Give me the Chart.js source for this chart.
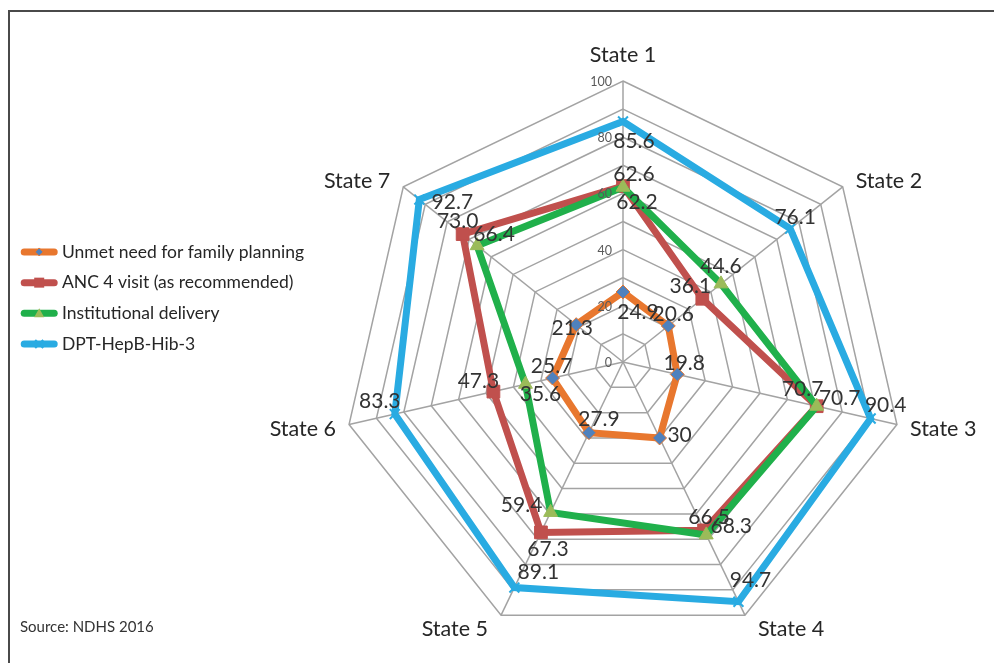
<!DOCTYPE html>
<html>
<head>
<meta charset="utf-8">
<script src="https://cdn.jsdelivr.net/npm/chart.js@4.4.1/dist/chart.umd.min.js"></script>
<style>
  html, body { margin: 0; padding: 0; background: #fff; overflow: hidden; }
  #frame { position: absolute; left: 8px; top: 10px; width: 1100px; height: 800px;
           border-left: 2px solid #4a4a4a; border-top: 2px solid #4a4a4a; }
  #wrap { position: absolute; left: 0; top: 0; width: 994px; height: 663px; }
  #source { position: absolute; left: 20px; top: 617px; font-family: Lato, sans-serif;
            font-size: 15px; color: #333; }
</style>
</head>
<body>
<div id="frame"></div>
<div id="wrap"><canvas id="c" width="994" height="663"></canvas></div>
<div id="source">Source: NDHS 2016</div>
<script>
// ---- data ----
const states = ["State 1", "State 2", "State 3", "State 4", "State 5", "State 6", "State 7"];
const seriesNames = ["Unmet need for family planning", "ANC 4 visit (as recommended)", "Institutional delivery", "DPT-HepB-Hib-3"];
const unmetNeed   = [24.9, 20.6, 19.8, 30.0, 27.9, 25.7, 21.3];
const anc4        = [62.6, 36.1, 70.7, 66.5, 67.3, 47.3, 73.0];
const institDeliv = [62.2, 44.6, 70.7, 68.3, 59.4, 35.6, 66.4];
const dpt3        = [85.6, 76.1, 90.4, 94.7, 89.1, 83.3, 92.7];
const labelText   = [
  ["24.9", "20.6", "19.8", "30", "27.9", "25.7", "21.3"],
  ["62.6", "36.1", "70.7", "66.5", "67.3", "47.3", "73.0"],
  ["62.2", "44.6", "70.7", "68.3", "59.4", "35.6", "66.4"],
  ["85.6", "76.1", "90.4", "94.7", "89.1", "83.3", "92.7"]
];
const tickValues = [0, 20, 40, 60, 80, 100];

// ---- styling (label nudges in px, per series / per state) ----
const labelNudge = [
  [[15, 20], [5, -12], [7, -11], [20, -3], [10, -13], [-1, -12], [-4, 4]],
  [[11, -12], [-12, -13], [-14, -17], [5, -13], [7, 17], [-15, -10], [-5, -13]],
  [[14, 15], [0, -18], [23, -8], [25, -9], [-29, -7], [15, 10], [17, -11]],
  [[11, 20], [5, -11], [15, -13], [12, -22], [24, -15], [-15, -13], [33, 3]]
];
const colors = ["#E8772E", "#C0504D", "#20B04B", "#29ABE2"];
const FONT = "Lato, 'Open Sans', sans-serif";

function drawMarker(ctx, kind, x, y, r, fill, stroke) {
  ctx.save();
  ctx.fillStyle = fill; ctx.strokeStyle = stroke; ctx.lineWidth = 1;
  ctx.beginPath();
  if (kind === 'diamond') {
    ctx.moveTo(x, y - r); ctx.lineTo(x + r, y); ctx.lineTo(x, y + r); ctx.lineTo(x - r, y); ctx.closePath();
    ctx.fill(); ctx.stroke();
  } else if (kind === 'square') {
    ctx.rect(x - r, y - r, 2 * r, 2 * r); ctx.fill();
  } else if (kind === 'triangle') {
    ctx.moveTo(x, y - r); ctx.lineTo(x + r, y + r * 0.8); ctx.lineTo(x - r, y + r * 0.8); ctx.closePath();
    ctx.fill();
  } else if (kind === 'cross') {
    ctx.lineWidth = 2;
    ctx.moveTo(x - r, y - r); ctx.lineTo(x + r, y + r); ctx.moveTo(x + r, y - r); ctx.lineTo(x - r, y + r);
    ctx.stroke();
  }
  ctx.restore();
}
const legendMarkers = [
  ['diamond', 4, '#4F81BD', '#E8772E'],
  ['square', 5, '#C0504D', '#C0504D'],
  ['triangle', 5, '#9BBB59', '#9BBB59'],
  ['cross', 4, '#29ABE2', '#29ABE2']
];

const extrasPlugin = {
  id: 'extras',
  afterLayout(chart) {
    // let the legend text run past the (narrowed) legend box instead of being clipped
    const lg = chart.legend;
    if (lg) { lg.width = 330; lg.right = lg.left + 330; }
  },
  afterDraw(chart) {
    const ctx = chart.ctx;
    const sc = chart.scales.r;
    // tick labels
    ctx.save();
    ctx.font = "12.5px " + FONT;
    ctx.fillStyle = "#595959";
    ctx.textAlign = "right";
    ctx.textBaseline = "middle";
    tickValues.forEach(v => {
      const d = sc.getDistanceFromCenterForValue(v);
      ctx.fillText(String(v), sc.xCenter - 11, sc.yCenter - d + 1);
    });
    ctx.restore();
    // category (point) labels
    ctx.save();
    ctx.font = "21.5px " + FONT;
    ctx.fillStyle = "#262626";
    ctx.textAlign = "center";
    ctx.textBaseline = "middle";
    states.forEach((s, i) => {
      const a = sc.getIndexAngle(i);
      const p = sc.getPointPosition(i, sc.drawingArea);
      const w = ctx.measureText(s).width;
      const sn = Math.sin(a), cs = Math.cos(a);
      let dx, dy;
      if (Math.abs(sn) < 0.1) { dx = 0; dy = cs > 0 ? -26 : 26; }
      else { dx = Math.sign(sn) * (w / 2 + 13); dy = -cs * 13 + 2; }
      ctx.fillText(s, p.x + dx, p.y + dy);
    });
    ctx.restore();
    // legend symbols
    const lg = chart.legend;
    if (lg && lg.legendHitBoxes) {
      lg.legendHitBoxes.forEach((hb, i) => {
        const y = hb.top + hb.height / 2;
        const x0 = hb.left + 1, x1 = hb.left + 37;
        ctx.save();
        ctx.strokeStyle = colors[i]; ctx.lineWidth = 7; ctx.lineCap = 'round';
        ctx.beginPath(); ctx.moveTo(x0 + 3, y); ctx.lineTo(x1 - 3, y); ctx.stroke();
        ctx.restore();
        const m = legendMarkers[i];
        drawMarker(ctx, m[0], (x0 + x1) / 2, y, m[1], m[2], m[3]);
      });
    }
  },
  afterDatasetsDraw(chart) {
    const ctx = chart.ctx;
    ctx.save();
    ctx.font = "21px " + FONT;
    ctx.fillStyle = "#333333";
    ctx.textAlign = "center";
    ctx.textBaseline = "middle";
    chart.data.datasets.forEach((ds, di) => {
      const meta = chart.getDatasetMeta(di);
      meta.data.forEach((pt, i) => {
        const n = labelNudge[di][i];
        ctx.fillText(labelText[di][i], pt.x + n[0], pt.y + n[1]);
      });
    });
    ctx.restore();
  }
};

const chart = new Chart(document.getElementById('c'), {
  type: 'radar',
  data: {
    labels: states,
    datasets: [
      { label: seriesNames[0], data: unmetNeed, borderColor: colors[0], backgroundColor: colors[0],
        borderWidth: 7, fill: false, order: 0,
        pointStyle: 'rectRot', pointRadius: 7, pointBackgroundColor: '#4F81BD', pointBorderColor: '#E8772E', pointBorderWidth: 1 },
      { label: seriesNames[1], data: anc4, borderColor: colors[1], backgroundColor: colors[1],
        borderWidth: 7, fill: false, order: 2,
        pointStyle: 'rect', pointRadius: 9, pointBackgroundColor: '#C0504D', pointBorderColor: '#C0504D', pointBorderWidth: 1 },
      { label: seriesNames[2], data: institDeliv, borderColor: colors[2], backgroundColor: colors[2],
        borderWidth: 7, fill: false, order: 1,
        pointStyle: 'triangle', pointRadius: 8, pointBackgroundColor: '#9BBB59', pointBorderColor: '#9BBB59', pointBorderWidth: 1 },
      { label: seriesNames[3], data: dpt3, borderColor: colors[3], backgroundColor: colors[3],
        borderWidth: 7, fill: false, order: 3,
        pointStyle: 'crossRot', pointRadius: 7, pointBackgroundColor: '#29ABE2', pointBorderColor: '#29ABE2', pointBorderWidth: 2 }
    ]
  },
  options: {
    responsive: false,
    animation: false,
    devicePixelRatio: 1,
    elements: { line: { tension: 0, borderJoinStyle: 'miter' } },
    layout: { padding: { top: 81, bottom: 20, left: 7, right: 0 } },
    scales: {
      r: {
        min: 0, max: 100,
        ticks: { stepSize: 10, display: false },
        grid: { color: '#a3a3a3', lineWidth: 1.5 },
        angleLines: { color: '#a3a3a3', lineWidth: 1.5 },
        pointLabels: { display: false }
      }
    },
    plugins: {
      tooltip: { enabled: false },
      legend: {
        position: 'left',
        align: 'start',
        maxWidth: 245,
        title: { display: true, text: ' ', font: { size: 10 }, padding: { top: 137, bottom: 0 } },
        labels: {
          font: { family: FONT, size: 17.5 },
          color: '#262626',
          boxWidth: 33,
          boxHeight: 10,
          padding: 13.2,
          sort: (a, b) => a.datasetIndex - b.datasetIndex,
          generateLabels: (ch) => Chart.defaults.plugins.legend.labels.generateLabels(ch).map(l =>
            Object.assign({}, l, { fillStyle: 'rgba(0,0,0,0)', strokeStyle: 'rgba(0,0,0,0)', lineWidth: 0 }))
        }
      }
    }
  },
  plugins: [extrasPlugin]
});
</script>
</body>
</html>
